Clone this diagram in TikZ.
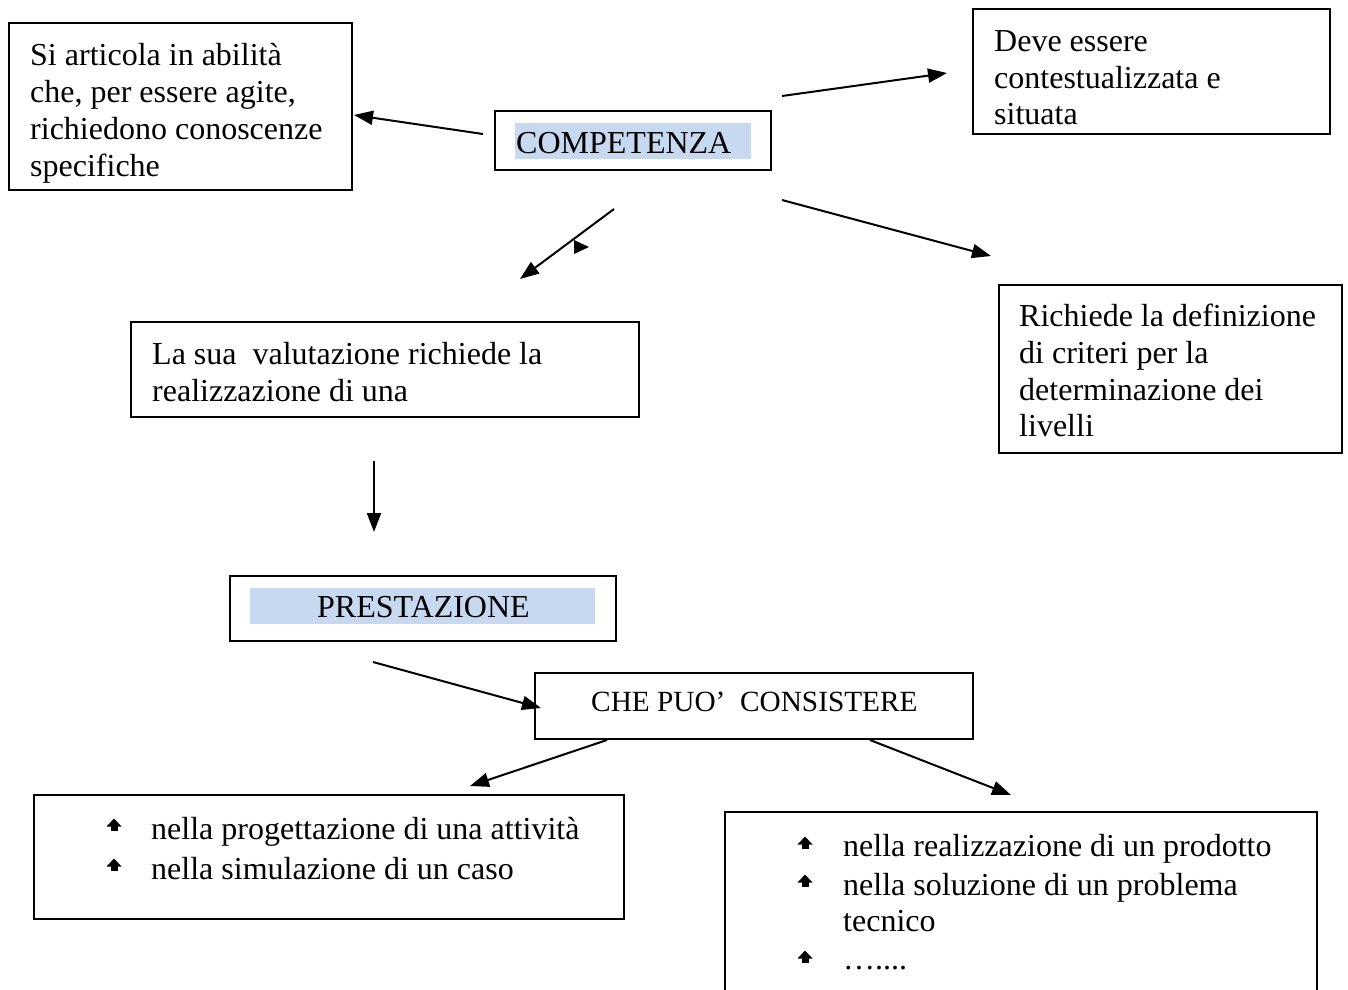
\documentclass[tikz,border=0pt]{standalone}
\usepackage{fontspec}
\setmainfont{Liberation Serif}
\usetikzlibrary{arrows.meta,fit}
\definecolor{hl}{RGB}{198,217,241}
\begin{document}
\begin{tikzpicture}[x=1pt,y=-1pt,
  boxline/.style={draw=black,line width=2.2pt},
  frame/.style={boxline,inner sep=0pt},
  hlbox/.style={fill=hl,draw=none,inner sep=0pt},
  txt/.style={anchor=base west,inner sep=0pt,font=\fontsize{32pt}{37pt}\selectfont},
  smalltxt/.style={anchor=base west,inner sep=0pt,font=\fontsize{29.3pt}{34pt}\selectfont},
  arr/.style={line width=2pt,-{Triangle[length=19pt,width=14pt]}},
  upbullet/.pic={\fill (-7.5,1.5) -- (7.5,1.5) -- (0,-6.5) -- cycle; \fill (-3.5,0) rectangle (3.5,5.5);}
]
\useasboundingbox (0,0) rectangle (1348,989);

% boxes
\node[frame,fit={(9,23) (352,190)}] (b1) {};
\node[frame,fit={(495,111) (771,170)}] (b2) {};
\node[frame,fit={(973,9) (1330,134)}] (b3) {};
\node[frame,fit={(999,285) (1342,453)}] (b4) {};
\node[frame,fit={(131,322) (639,417)}] (b5) {};
\node[frame,fit={(230,576) (616,641)}] (b6) {};
\node[frame,fit={(535,673) (973,739)}] (b7) {};
\node[frame,fit={(34,795) (624,919)}] (b8) {};
\node[inner sep=0pt,fit={(725,812) (1317,989)}] (b9) {};
\draw[boxline] ([yshift=-20pt]b9.south west) -- (b9.north west) -- (b9.north east) -- ([yshift=-20pt]b9.south east);

% highlights
\node[hlbox,fit={(515,123) (751,159)}] (h2) {};
\node[hlbox,fit={(250,588) (595,624)}] (h6) {};

% texts
\node[txt] (t1a) at (30,65) {Si articola in abilità};
\node[txt] (t1b) at (30,102) {che, per essere agite,};
\node[txt] (t1c) at (30,139) {richiedono conoscenze};
\node[txt] (t1d) at (30,176) {specifiche};

\node[txt] (t2) at (516,153) {COMPETENZA};

\node[txt] (t3a) at (994,51) {Deve essere};
\node[txt] (t3b) at (994,88) {contestualizzata e};
\node[txt] (t3c) at (994,124) {situata};

\node[txt] (t4a) at (1019,326) {Richiede la definizione};
\node[txt] (t4b) at (1019,363) {di criteri per la};
\node[txt] (t4c) at (1019,400) {determinazione dei};
\node[txt] (t4d) at (1019,436) {livelli};

\node[txt] (t5a) at (152,364) {La sua\ \ valutazione richiede la};
\node[txt] (t5b) at (152,401) {realizzazione di una};

\node[txt] (t6) at (317,617) {PRESTAZIONE};

\node[smalltxt] (t7) at (591,711) {CHE PUO’\ \ CONSISTERE};

\pic at (114,825) {upbullet};
\node[txt] (t8a) at (151,839) {nella progettazione di una attività};
\pic at (114,865) {upbullet};
\node[txt] (t8b) at (151,879) {nella simulazione di un caso};

\pic at (805,843) {upbullet};
\node[txt] (t9a) at (843,856) {nella realizzazione di un prodotto};
\pic at (805,881) {upbullet};
\node[txt] (t9b) at (843,895) {nella soluzione di un problema};
\node[txt] (t9c) at (843,931) {tecnico};
\pic at (805,957) {upbullet};
\node[txt] (t9d) at (843,969) {…....};

% connector ends
\coordinate (a1s) at (483,134); \coordinate (a1e) at (354,115);
\coordinate (a2s) at (782,96);  \coordinate (a2e) at (947,73);
\coordinate (a3s) at (614,209); \coordinate (a3e) at (520,279);
\coordinate (a4s) at (782,200); \coordinate (a4e) at (991,256);
\coordinate (a5s) at (374,461); \coordinate (a5e) at (374,532);
\coordinate (a6s) at (373,662); \coordinate (a6e) at (541,708);
\coordinate (a7s) at (607,740); \coordinate (a7e) at (470,786);
\coordinate (a8s) at (870,740); \coordinate (a8e) at (1011,795);

\draw[arr] (a1s) -- (a1e);
\draw[arr] (a2s) -- (a2e);
\draw[arr] (a3s) -- (a3e);
\draw[arr] (a4s) -- (a4e);
\draw[arr] (a5s) -- (a5e);
\draw[arr] (a6s) -- (a6e);
\draw[arr] (a7s) -- (a7e);
\draw[arr] (a8s) -- (a8e);

% stray arrowhead on the diagonal connector
\coordinate (stray) at (574,247);
\fill ([yshift=-7pt]stray) -- ([yshift=7pt]stray) -- ([xshift=15pt]stray) -- cycle;
\end{tikzpicture}
\end{document}
